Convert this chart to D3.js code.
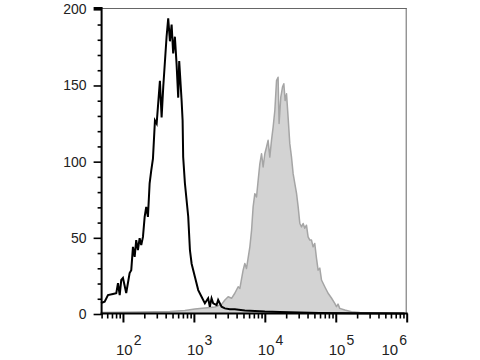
<!DOCTYPE html>
<html>
<head>
<meta charset="utf-8">
<script src="https://cdn.jsdelivr.net/npm/d3@7"></script>
<style>
  html, body { margin: 0; padding: 0; background: #fff; }
  svg { display: block; }
</style>
</head>
<body>
<svg id="chart" width="480" height="360"></svg>
<script>
// ---- Data (x as log10 fluorescence intensity, y as event count) ----
const controlLog = [1.690,1.742,1.789,1.859,1.906,1.930,1.954,1.976,2.000,2.046,2.094,2.117,2.141,2.165,2.187,2.211,2.235,2.258,2.282,2.306,2.328,2.352,2.376,2.399,2.423,2.451,2.475,2.521,2.545,2.568,2.615,2.638,2.662,2.686,2.708,2.732,2.756,2.779,2.793,2.827,2.841,2.849,2.873,2.920,2.944,2.968,3.014,3.061,3.108,3.155,3.201,3.225,3.249,3.272,3.320,3.342,3.390,3.437,3.507,3.577,3.718,3.859,4.000,4.210,4.490,4.770,5.200,5.970];
const controlCount = [7.2,8.1,12.4,13.1,13.6,20.3,12.4,22.3,23.6,13.8,26.9,28.8,44.1,37.5,48.5,41.9,49.8,45.2,50.6,63.7,70.3,63.7,85.8,94.3,102,127,125,153,129,149,182,194,179,190,171,182,164,142,166,140,127,103,86,64,42,33,24.4,15.7,11.3,7.0,10.3,4.8,10.3,7.0,5.9,9.2,4.8,3.7,3.1,3.1,2.3,2.0,1.6,1.3,1.0,0.7,0.5,0.3];

const stainedLog = [1.690,2.239,2.662,2.873,3.014,3.155,3.296,3.394,3.437,3.483,3.531,3.577,3.624,3.648,3.694,3.718,3.742,3.789,3.813,3.835,3.859,3.883,3.906,3.930,3.954,3.976,4.000,4.024,4.046,4.070,4.094,4.117,4.141,4.165,4.187,4.201,4.225,4.249,4.268,4.286,4.306,4.328,4.352,4.376,4.399,4.423,4.447,4.470,4.493,4.517,4.540,4.563,4.587,4.610,4.634,4.658,4.680,4.704,4.728,4.751,4.775,4.799,4.845,4.892,4.939,4.986,5.010,5.032,5.056,5.127,5.221,5.338,5.620,5.970];
const stainedCount = [1.0,1.3,1.6,2.3,3.3,3.9,4.6,6.5,9.2,11.3,10.3,13.6,17.9,16.8,28.8,33.2,29.9,44.1,55.0,70.3,79.0,76.8,87.8,98.7,105.2,96.5,105.2,109.6,114.0,103.0,114.0,122.7,133.6,153.2,155.4,125.1,142.3,148.9,151.1,140.1,144.5,129.2,111.8,103.0,92.1,85.6,79.2,70.3,59.6,57.2,59.4,56.3,58.3,50.6,48.5,48.5,44.1,46.3,36.7,28.8,30.1,22.3,17.9,13.6,10.5,7.0,4.8,6.5,3.7,2.6,1.5,1.0,0.6,0.4];

const yTickValues = [0, 50, 100, 150, 200];
const xDecades = [2, 3, 4, 5, 6];

// ---- Build records ----
const control = controlLog.map((l, i) => ({ v: Math.pow(10, l), c: controlCount[i] }));
const stained = stainedLog.map((l, i) => ({ v: Math.pow(10, l), c: stainedCount[i] }));

const svg = d3.select("#chart");
const pLeft = 101.6, pRight = 406.7, pTop = 8, pBottom = 314;

const x = d3.scaleLog().domain([50, 1e6]).range([pLeft, pRight]);
const y = d3.scaleLinear().domain([0, 200]).range([pBottom, 9.3]);

// Stained histogram (filled grey)
const area = d3.area().x(d => x(d.v)).y0(y(0)).y1(d => y(d.c));
const line = d3.line().x(d => x(d.v)).y(d => y(d.c));

svg.append("path").datum(stained)
  .attr("d", area)
  .attr("fill", "#d3d3d3");
svg.append("path").datum(stained)
  .attr("d", line)
  .attr("fill", "none")
  .attr("stroke", "#a5a5a5")
  .attr("stroke-width", 1.5)
  .attr("stroke-linejoin", "round");

// Control histogram (black line)
svg.append("path").datum(control)
  .attr("d", line)
  .attr("fill", "none")
  .attr("stroke", "#000")
  .attr("stroke-width", 2)
  .attr("stroke-linejoin", "miter");

// Frame (top and right)
svg.append("line").attr("x1", pLeft).attr("x2", pRight).attr("y1", pTop + 0.5).attr("y2", pTop + 0.5)
  .attr("stroke", "#666").attr("stroke-width", 1);
svg.append("line").attr("x1", pRight - 0.5).attr("x2", pRight - 0.5).attr("y1", pTop).attr("y2", pBottom)
  .attr("stroke", "#666").attr("stroke-width", 1);

// ---- Y axis ----
const yMinor = d3.range(0, 201, 10).filter(v => v % 50 !== 0);
const gy = svg.append("g").attr("transform", `translate(${pLeft},0)`);
gy.call(d3.axisLeft(y).tickValues(yMinor).tickSize(4).tickFormat(""));
gy.select(".domain").remove();
const gyMaj = svg.append("g").attr("transform", `translate(${pLeft},0)`);
gyMaj.call(d3.axisLeft(y).tickValues(yTickValues).tickSize(8).tickPadding(7).tickFormat(d3.format("d")));
gyMaj.select(".domain").remove();
svg.selectAll("g .tick line").attr("stroke", "#000").attr("stroke-width", 1.6);
gyMaj.selectAll("text")
  .attr("font-family", "'Liberation Sans', Arial, sans-serif")
  .attr("font-size", 14)
  .attr("fill", "#222");
// left axis line and corner mark
svg.append("line").attr("x1", pLeft).attr("x2", pLeft).attr("y1", pTop - 1).attr("y2", pBottom + 1)
  .attr("stroke", "#000").attr("stroke-width", 2);
svg.append("line").attr("x1", pLeft - 8).attr("x2", pLeft).attr("y1", pTop).attr("y2", pTop)
  .attr("stroke", "#000").attr("stroke-width", 2);

// ---- X axis ----
const minorX = [];
for (let d = 1; d <= 5; d++) {
  for (let m = 2; m <= 9; m++) {
    const v = m * Math.pow(10, d);
    if (v >= 50 && v <= 1e6) minorX.push(v);
  }
}
const gx = svg.append("g").attr("transform", `translate(0,${pBottom - 0.5})`);
gx.call(d3.axisBottom(x).tickValues(minorX).tickSize(5).tickFormat(""));
gx.select(".domain").remove();
const gxMaj = svg.append("g").attr("transform", `translate(0,${pBottom - 0.5})`);
gxMaj.call(d3.axisBottom(x).tickValues(xDecades.map(d => Math.pow(10, d))).tickSize(9).tickFormat(""));
gxMaj.select(".domain").remove();
gx.selectAll(".tick line").attr("stroke", "#000").attr("stroke-width", 1.6);
gxMaj.selectAll(".tick line").attr("stroke", "#000").attr("stroke-width", 2);
svg.append("line").attr("x1", pLeft - 1).attr("x2", pRight + 1).attr("y1", pBottom - 0.5).attr("y2", pBottom - 0.5)
  .attr("stroke", "#000").attr("stroke-width", 2);

// decade labels 10^n (single text with superscript tspan)
const labels = svg.append("g")
  .attr("font-family", "'Liberation Sans', Arial, sans-serif")
  .attr("fill", "#222");
xDecades.forEach(d => {
  const tx = x(Math.pow(10, d));
  const start = Math.min(tx - 7, 381.5);
  const t = labels.append("text")
    .attr("x", start).attr("y", 355)
    .attr("font-size", 15);
  t.append("tspan").text("10");
  t.append("tspan")
    .attr("dx", 1).attr("dy", -10)
    .attr("font-size", 14)
    .text(String(d));
});
</script>
</body>
</html>
